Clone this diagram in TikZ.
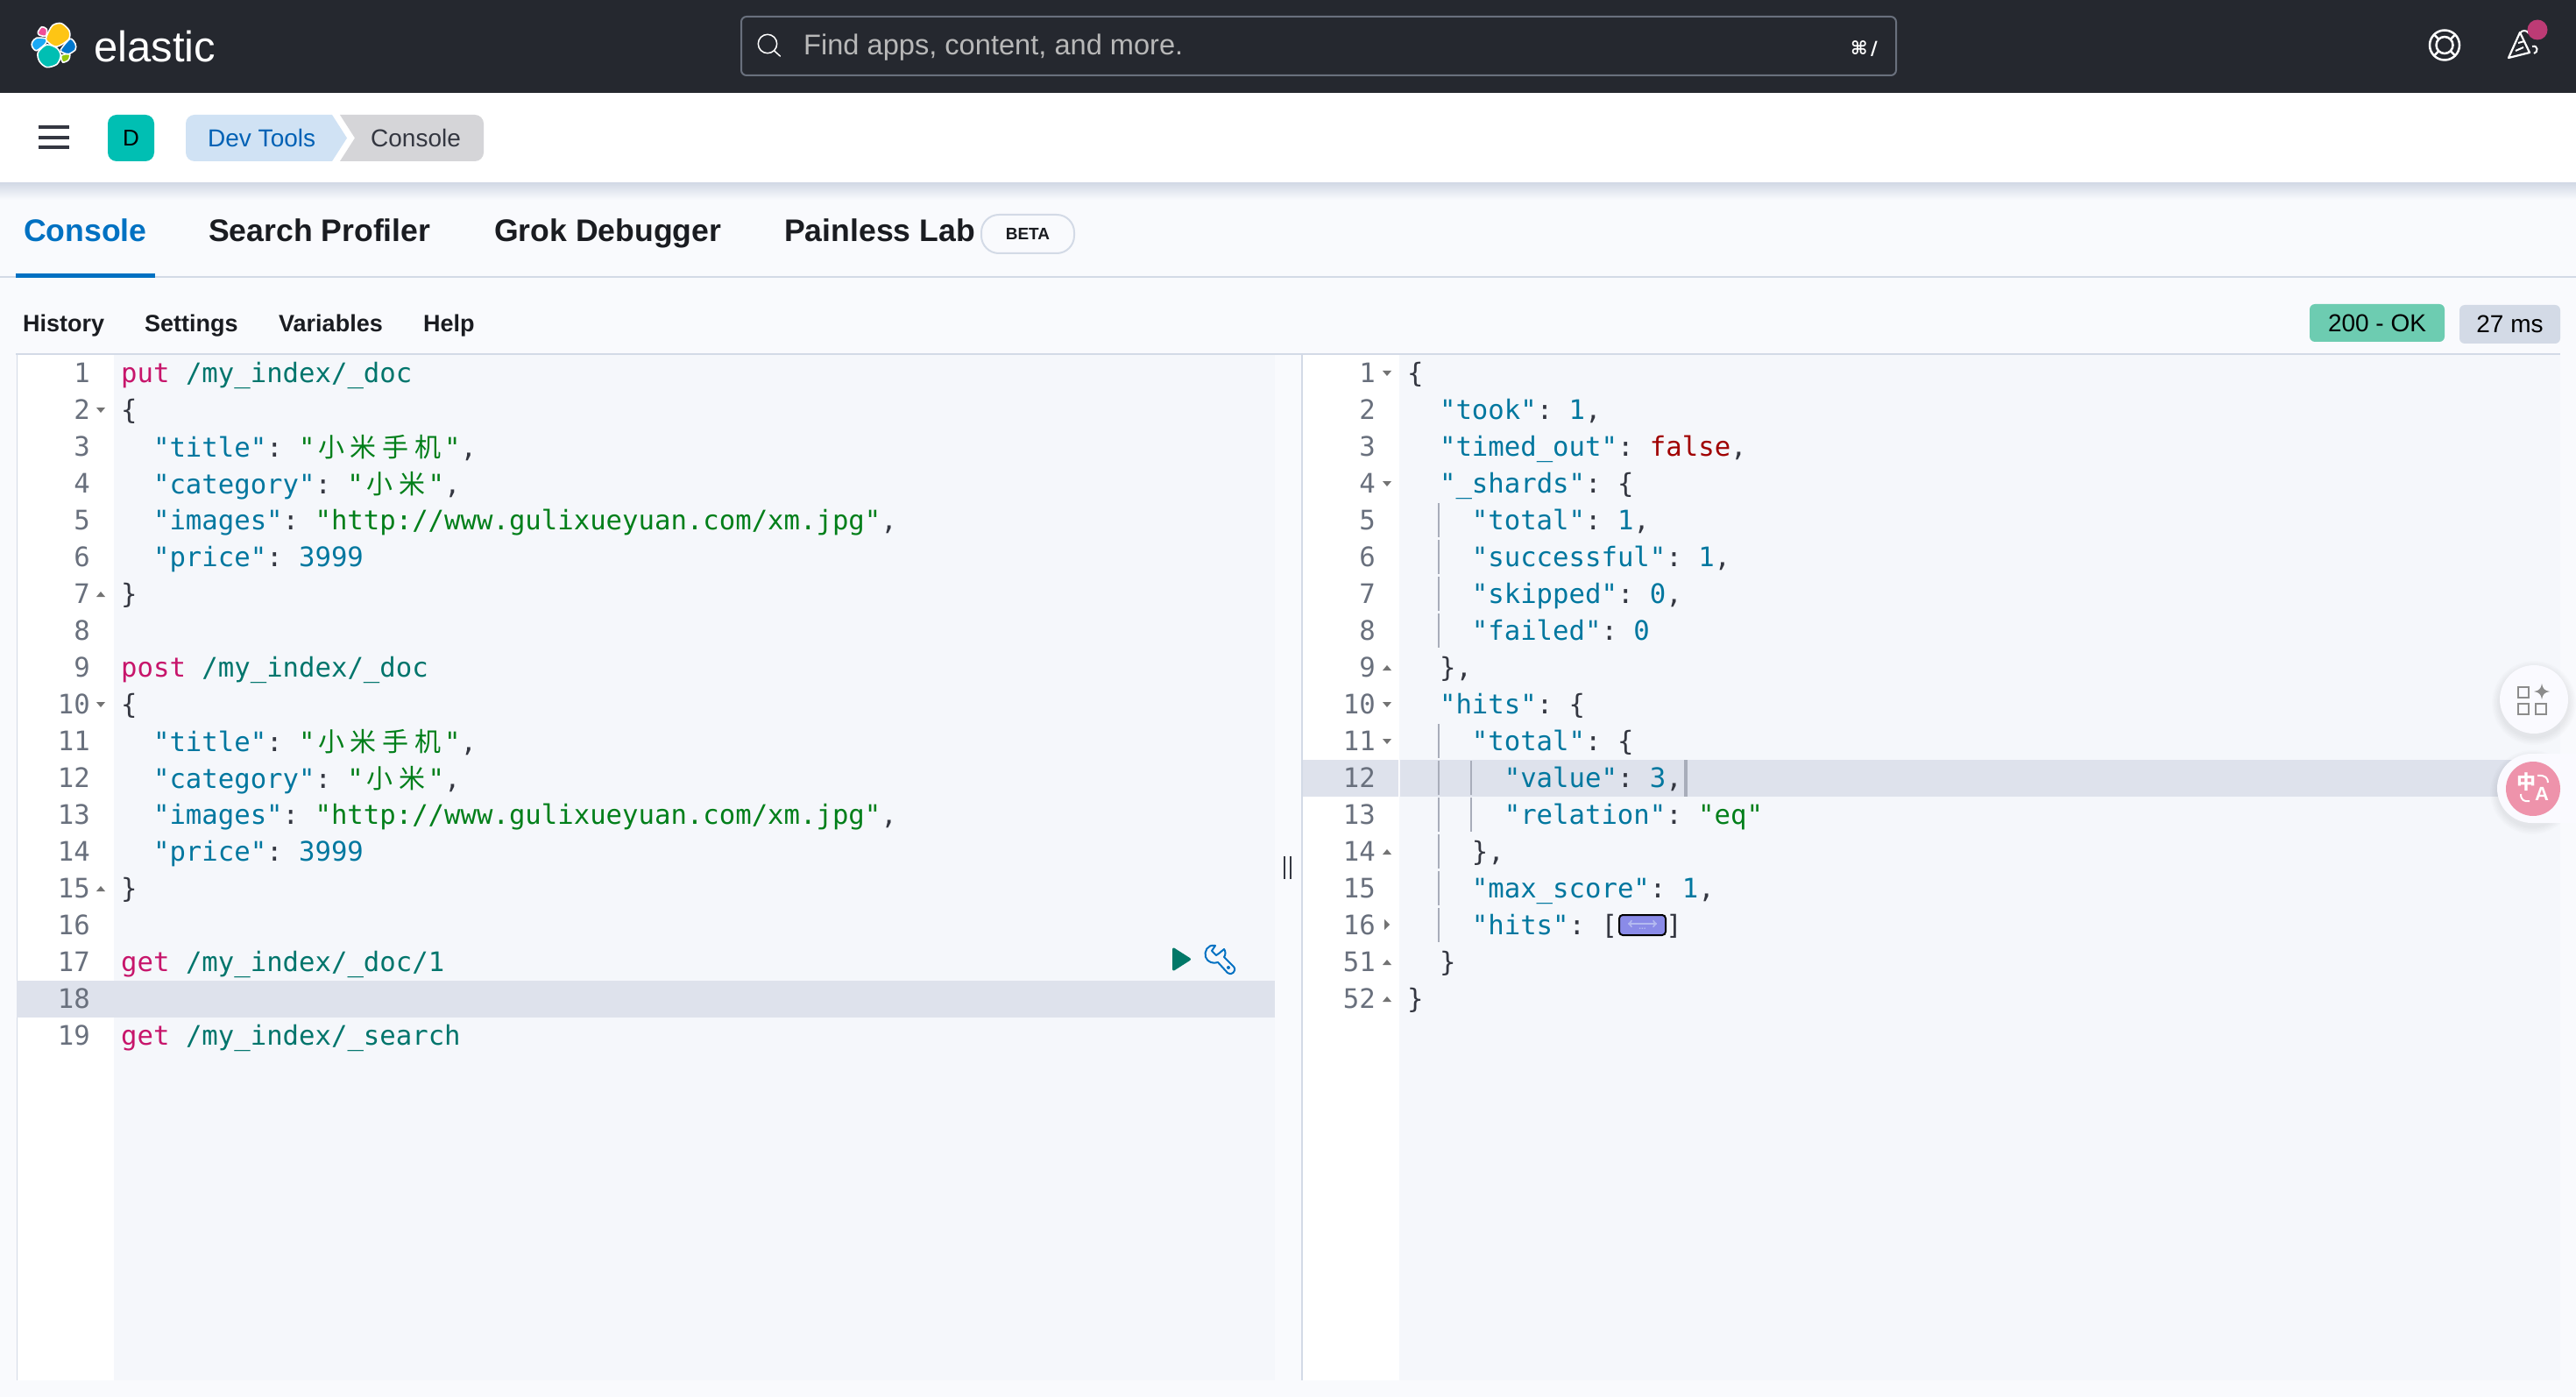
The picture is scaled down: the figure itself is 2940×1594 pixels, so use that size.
\documentclass[tikz,border=0pt]{standalone}
\usepackage{fontspec}
\setmainfont{Liberation Sans}
\setmonofont{DejaVu Sans Mono}
\newfontfamily\cjk{Noto Sans CJK SC}
\newfontfamily\symfont{DejaVu Sans}
\usetikzlibrary{positioning}

\definecolor{barbg}{HTML}{25282F}
\definecolor{pagebg}{HTML}{F9FAFD}
\definecolor{editbg}{HTML}{F5F7FB}
\definecolor{rowbg}{HTML}{DEE2EC}
\definecolor{rulec}{HTML}{D3DAE6}
\definecolor{guide}{HTML}{A8ADBA}
\definecolor{ink}{HTML}{1A1C21}
\definecolor{slate}{HTML}{343741}
\definecolor{linkc}{HTML}{0071C2}
\definecolor{devc}{HTML}{0061B5}
\definecolor{numc}{HTML}{69707D}
\definecolor{kwc}{HTML}{C7156B}
\definecolor{urlc}{HTML}{00756C}
\definecolor{keyc}{HTML}{00779F}
\definecolor{strc}{HTML}{017F1A}
\definecolor{falc}{HTML}{A00000}
\definecolor{tealc}{HTML}{00BFB3}
\definecolor{crumba}{HTML}{D0E2F4}
\definecolor{crumbb}{HTML}{D5D5D8}
\definecolor{okc}{HTML}{6DCCB1}
\definecolor{dotc}{HTML}{BD3B75}
\definecolor{playc}{HTML}{017868}
\definecolor{widgetc}{HTML}{8A8BE8}
\definecolor{widgeta}{HTML}{B4BAF0}
\definecolor{pinkc}{HTML}{EE93AB}
\definecolor{logoy}{HTML}{FEC514}
\definecolor{logop}{HTML}{F04E98}
\definecolor{logob}{HTML}{1BA9F5}
\definecolor{logod}{HTML}{0077CC}
\definecolor{logog}{HTML}{93C90E}

\newcommand\px[1]{\fontsize{#1}{#1}\selectfont}
\newcommand\ckw[1]{\textcolor{kwc}{#1}}
\newcommand\curl[1]{\textcolor{urlc}{#1}}
\newcommand\ckey[1]{\textcolor{keyc}{#1}}
\newcommand\cval[1]{\textcolor{strc}{#1}}
\newcommand\cnum[1]{\textcolor{keyc}{#1}}
\newcommand\cfal[1]{\textcolor{falc}{#1}}
\newcommand\zh[1]{\makebox[36.9pt]{\cjk\px{30}#1}}
\newcommand\lowr[1]{\raisebox{-1.2pt}{#1}}

\tikzset{
  label/.style={anchor=base west,inner sep=0pt,text=ink,font=\bfseries\px{27}},
  tab/.style={anchor=base west,inner sep=0pt,text=ink,font=\bfseries\px{35.6}},
  code/.style={anchor=base west,inner sep=0pt,text=slate,font=\ttfamily\px{30.65}},
  lineno/.style={anchor=base east,inner sep=0pt,text=numc,font=\ttfamily\px{30.65}},
  badge/.style={rounded corners=6pt,inner sep=0pt,text=black,font=\px{28}},
  foldd/.style={fill=black!55},
  logo/.style={draw=white,line width=1.6pt},
}

\begin{document}
\begin{tikzpicture}[x=1pt,y=-1pt]
  \useasboundingbox (0,0) rectangle (2940,1594);
  \fill[pagebg] (0,0) rectangle (2940,1594);
  % top bar
  \fill[barbg] (0,0) rectangle (2940,106);
  \draw[logo,fill=logop] plot[smooth cycle] coordinates {(43.3,36.7) (47.7,30.7) (53.3,33.3) (52.3,41) (45,40)};
  \draw[logo,fill=logob] plot[smooth cycle] coordinates {(36.7,48.3) (41.7,43.3) (53.3,44.3) (51.7,50) (41.7,57.7) (36.7,53.3)};
  \draw[logo,fill=logog] plot[smooth cycle] coordinates {(70,63.3) (79.3,61.7) (78.3,68.3) (71.7,71)};
  \draw[logo,fill=logod] plot[smooth cycle] coordinates {(69.3,56.7) (80,44.3) (86,50) (86,56.7) (78.3,61.7) (71.7,60)};
  \draw[logo,fill=tealc] plot[smooth cycle] coordinates {(43.3,60) (53.3,51) (65,55) (69.3,63.3) (65,73.3) (53.3,76.7) (45,70)};
  \draw[logo,fill=logoy] plot[smooth cycle] coordinates {(53.3,41) (60,29) (70,26.7) (79,35) (78.3,45) (64.3,53.3) (53.3,46.7)};
  \node (brand) at (107,71) [anchor=base west,inner sep=0pt,text=white,font=\px{49}] {elastic};
  \draw[draw=numc,line width=2pt,rounded corners=6pt] (846,19) rectangle (2164,86);
  \draw[white,line width=1.5pt] (876,50) circle (10.7pt) (884,58.3) -- (890.7,64.3);
  \node (find) at (917,63) [anchor=base west,inner sep=0pt,text=white!72!black,font=\px{32.6}] {Find apps, content, and more.};
  \node (kbd) at (2143,62.5) [anchor=base east,inner sep=0pt,text=white,font=\symfont\bfseries\px{21}] {⌘\,/};
  \draw[white,line width=2.5pt] (2790,51.5) circle (17pt) (2790,51.5) circle (9.5pt);
  \foreach \a in {45,135,225,315} {
    \draw[white,line width=2.5pt] (2790,51.5) ++(\a:10pt) -- ++(\a:6pt);
  }
  \draw[white,line width=2.2pt,line join=round] (2863,66) -- (2876,37) -- (2887,60) -- cycle;
  \draw[white,line width=2pt] (2871,58) -- (2880,54) (2874,49) -- (2881,47);
  \draw[white,line width=2pt] (2876,38) .. controls (2878,34) and (2884,34) .. (2886,38);
  \draw[white,line width=2pt] (2890,53) .. controls (2897,51) and (2897,60) .. (2892,61);
  \fill[dotc] (2896,34) circle (11.5pt);

  % breadcrumb bar
  \fill[white] (0,106) rectangle (2940,209);
  \shade[top color=rulec,bottom color=pagebg] (0,209) rectangle (2940,228);
  \draw[slate,line width=4pt] (44,145) -- (79,145) (44,157) -- (79,157) (44,168) -- (79,168);
  \node (space) at (149.5,157.5) [fill=tealc,rounded corners=10pt,minimum width=53pt,minimum height=53pt,inner sep=0pt,text=black,font=\px{26}] {D};
  \fill[crumba] (379,131) -- (396,157.5) -- (379,184)
    [rounded corners=10pt] -- (212,184) -- (212,131) [sharp corners] -- cycle;
  \fill[crumbb] (388,131) -- (405,157.5) -- (388,184)
    [rounded corners=10pt] -- (552,184) -- (552,131) [sharp corners] -- cycle;
  \node (devtools) at (237,167.5) [anchor=base west,inner sep=0pt,text=devc,font=\px{28}] {Dev Tools};
  \node (crumb) at (423,167.5) [anchor=base west,inner sep=0pt,text=slate,font=\px{28}] {Console};

  % tabs
  \draw[rulec,line width=2.5pt] (0,316) -- (2940,316);
  \fill[linkc] (18,312) rectangle (177,317);
  \node (console) at (27,276) [tab,text=linkc] {Console};
  \node (profiler) at (238,276) [tab] {Search Profiler};
  \node (grok) at (564,276) [tab] {Grok Debugger};
  \node (painless) at (895,276) [tab] {Painless Lab};
  \node (beta) at (1173,267) [draw=rulec,line width=2pt,rounded corners=20pt,minimum width=106pt,minimum height=44pt,inner sep=0pt,text=ink,font=\bfseries\px{19}] {BETA};
  \foreach \x/\name/\txt in {26/history/History,165/settings/Settings,318/variables/Variables,483/help/Help} {
    \node (\name) at (\x,379) [label] {\txt};
  }
  \node (status) at (2713,368.5) [badge,fill=okc,minimum width=154pt,minimum height=43pt] {200 - OK};
  \node (took) at (2864.5,370) [badge,fill=rulec,minimum width=115pt,minimum height=44pt] {27 ms};

  % editors
  \fill[editbg] (19,404) rectangle (1455,1575);
  \fill[editbg] (1487,404) rectangle (2922,1575);
  \fill[white] (19,405) rectangle (130,1575);
  \fill[white] (1487,405) rectangle (1597,1575);
  \draw[rulec,line width=2.5pt] (18,404) -- (2922,404);
  \draw[rulec,line width=1pt] (19,404) -- (19,1575);
  \draw[rulec,line width=2pt] (1486,404) -- (1486,1575);
  \fill[rowbg] (19,1119) rectangle (1455,1161);
  \fill[rowbg] (1487,867) rectangle (1596,909);
  \fill[rowbg] (1598,867) rectangle (2922,909);

  % left pane
  \foreach \r in {1,...,19} {
    \node (lnum\r) at (103,394.5+42*\r) [lineno] {\r};
  }
  \foreach \r/\ind/\txt in {
    1/0/{\ckw{put} \curl{/my\_index/\_doc}},
    2/0/{\{},
    3/2/{\lowr{\ckey{"title"}: \cval{"\zh{小}\zh{米}\zh{手}\zh{机}"},}},
    4/2/{\lowr{\ckey{"category"}: \cval{"\zh{小}\zh{米}"},}},
    5/2/{\ckey{"images"}: \cval{"http://www.gulixueyuan.com/xm.jpg"},},
    6/2/{\ckey{"price"}: \cnum{3999}},
    7/0/{\}},
    9/0/{\ckw{post} \curl{/my\_index/\_doc}},
    10/0/{\{},
    11/2/{\lowr{\ckey{"title"}: \cval{"\zh{小}\zh{米}\zh{手}\zh{机}"},}},
    12/2/{\lowr{\ckey{"category"}: \cval{"\zh{小}\zh{米}"},}},
    13/2/{\ckey{"images"}: \cval{"http://www.gulixueyuan.com/xm.jpg"},},
    14/2/{\ckey{"price"}: \cnum{3999}},
    15/0/{\}},
    17/0/{\ckw{get} \curl{/my\_index/\_doc/1}},
    19/0/{\ckw{get} \curl{/my\_index/\_search}}} {
    \node (lcode\r) at (138+18.43*\ind,394.5+42*\r) [code] {\txt};
  }
  \foreach \r in {2,10} {
    \fill[foldd] (110,381+42*\r) -- (120,381+42*\r) -- (115,387+42*\r) -- cycle;
  }
  \foreach \r in {7,15} {
    \fill[foldd] (110,387+42*\r) -- (120,387+42*\r) -- (115,381+42*\r) -- cycle;
  }

  % right pane
  \foreach \r/\n in {1/1,2/2,3/3,4/4,5/5,6/6,7/7,8/8,9/9,10/10,11/11,12/12,13/13,14/14,15/15,16/16,17/51,18/52} {
    \node (rnum\r) at (1570,394.5+42*\r) [lineno] {\n};
  }
  \foreach \r/\ind/\txt in {
    1/0/{\{},
    2/2/{\ckey{"took"}: \cnum{1},},
    3/2/{\ckey{"timed\_out"}: \cfal{false},},
    4/2/{\ckey{"\_shards"}: \{},
    5/4/{\ckey{"total"}: \cnum{1},},
    6/4/{\ckey{"successful"}: \cnum{1},},
    7/4/{\ckey{"skipped"}: \cnum{0},},
    8/4/{\ckey{"failed"}: \cnum{0}},
    9/2/{\},},
    10/2/{\ckey{"hits"}: \{},
    11/4/{\ckey{"total"}: \{},
    12/6/{\ckey{"value"}: \cnum{3},},
    13/6/{\ckey{"relation"}: \cval{"eq"}},
    14/4/{\},},
    15/4/{\ckey{"max\_score"}: \cnum{1},},
    16/4/{\ckey{"hits"}: [\hspace{55.3pt}]},
    17/2/{\}},
    18/0/{\}}} {
    \node (rcode\r) at (1606+18.43*\ind,394.5+42*\r) [code] {\txt};
  }
  \foreach \r in {1,4,10,11} {
    \fill[foldd] (1578,381+42*\r) -- (1588,381+42*\r) -- (1583,387+42*\r) -- cycle;
  }
  \foreach \r in {9,14,17,18} {
    \fill[foldd] (1578,387+42*\r) -- (1588,387+42*\r) -- (1583,381+42*\r) -- cycle;
  }
  \fill[foldd] (1580,1049) -- (1586,1055) -- (1580,1061) -- cycle;
  \foreach \r in {5,6,7,8,11,12,13,14,15,16} {
    \draw[guide,line width=1.6pt] (1642,364+42*\r) -- (1642,403+42*\r);
  }
  \foreach \r in {12,13} {
    \draw[guide,line width=1.6pt] (1679,364+42*\r) -- (1679,403+42*\r);
  }
  \fill[guide] (1922,867) rectangle (1926,909);
  % collapsed widget
  \draw[black,line width=2pt,fill=widgetc,rounded corners=4pt] (1848,1044) rectangle (1901,1067);
  \draw[widgeta,line width=2pt,<->] (1858,1054) -- (1891,1054);
  \node (dots) at (1874.5,1060) [inner sep=0pt,text=widgeta,font=\bfseries\px{10}] {...};

  % splitter
  \draw[slate,line width=2.4pt] (1466,977) -- (1466,1003) (1473,977) -- (1473,1003);

  % request actions
  \fill[playc,draw=playc,line width=3pt,line join=round] (1339.5,1083) -- (1357.5,1094.5) -- (1339.5,1106) -- cycle;
  \draw[linkc,line width=2pt,line join=round] (1387,1079) .. controls (1378,1077) and (1374,1086) .. (1376,1092)
    .. controls (1378,1098) and (1385,1100) .. (1390,1098) -- (1401,1110)
    .. controls (1405,1114) and (1412,1108) .. (1408,1103) -- (1397,1092)
    .. controls (1399,1089) and (1399,1086) .. (1397,1083) -- (1391,1088) -- (1388,1090) -- (1383,1085) -- cycle;
  \fill[linkc] (1402,1104) circle (2pt);

  % floating buttons
  \foreach \o in {1,2,...,6} {
    \fill[black,opacity=0.012] (2892,802) circle (39pt+\o*1.5pt);
    \fill[black,opacity=0.012] (2890,904) circle (39pt+\o*1.5pt);
  }
  \fill[white!98!blue] (2892,798) circle (39pt);
  \foreach \x/\y in {2874/784,2874/803,2894/803} {
    \draw[black!45,line width=2.5pt] (\x,\y) rectangle ++(12,12);
  }
  \fill[black!45] (2901,780) .. controls (2902,786) and (2904,788) .. (2910,789)
    .. controls (2904,790) and (2902,792) .. (2901,798) .. controls (2900,792) and (2898,790) .. (2892,789)
    .. controls (2898,788) and (2900,786) .. (2901,780) -- cycle;
  \fill[white!98!blue] (2889.5,860) arc (90:270:39.5pt) -- (2940,939) -- (2940,860) -- cycle;
  \fill[pinkc] (2891,900) circle (31pt);
  \node (zhong) at (2883,892) [inner sep=0pt,text=white,font=\cjk\bfseries\px{22}] {中};
  \node (latin) at (2901,906) [inner sep=0pt,text=white,font=\bfseries\px{22}] {A};
  \draw[white,line width=2pt] (2896,885) .. controls (2905,884) and (2908,888) .. (2908,893);
  \draw[white,line width=2pt] (2877,906) .. controls (2877,913) and (2881,915) .. (2887,914);
\end{tikzpicture}
\end{document}
